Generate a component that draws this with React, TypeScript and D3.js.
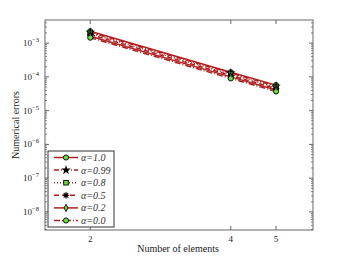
import React from "react";
import * as d3 from "d3";

const elements = [2, 4, 5];
const alphaLabels = ["α=1.0", "α=0.99", "α=0.8", "α=0.5", "α=0.2", "α=0.0"];
const err10 = [2.25e-3, 1.38e-4, 5.7e-5];
const err099 = [2.1e-3, 1.3e-4, 5.3e-5];
const err08 = [1.95e-3, 1.2e-4, 4.9e-5];
const err05 = [1.8e-3, 1.1e-4, 4.5e-5];
const err02 = [1.6e-3, 1.0e-4, 4.1e-5];
const err00 = [1.45e-3, 9.0e-5, 3.7e-5];
const yTickExps = [-3, -4, -5, -6, -7, -8];
const xTicks = [2, 4, 5];

const series = [
  { label: alphaLabels[0], values: err10, dash: "", marker: "circle", fill: "#66dd44" },
  { label: alphaLabels[1], values: err099, dash: "5,2,1,2", marker: "star", fill: "#000" },
  { label: alphaLabels[2], values: err08, dash: "1,2", marker: "square", fill: "#66dd44" },
  { label: alphaLabels[3], values: err05, dash: "5,3", marker: "star8", fill: "#000" },
  { label: alphaLabels[4], values: err02, dash: "", marker: "diamond", fill: "#66dd44" },
  { label: alphaLabels[5], values: err00, dash: "6,2,1,2", marker: "circle", fill: "#66dd44" },
];

const RED = "#b01f1f";

function Marker({ type, x, y, fill }: { type: string; x: number; y: number; fill: string }) {
  const s = 2.6;
  if (type === "circle") return <circle cx={x} cy={y} r={s} fill={fill} stroke="#000" strokeWidth={0.9} />;
  if (type === "square") return <rect x={x - s + 0.3} y={y - s + 0.3} width={2 * s - 0.6} height={2 * s - 0.6} fill={fill} stroke="#000" strokeWidth={0.9} />;
  if (type === "diamond") return <path d={`M${x},${y - s - 1}L${x + s - 0.6},${y}L${x},${y + s + 1}L${x - s + 0.6},${y}Z`} fill={fill} stroke="#000" strokeWidth={0.9} />;
  if (type === "star") {
    const p = d3.symbol(d3.symbolStar, 28)();
    return <path d={p || ""} transform={`translate(${x},${y})`} fill="#000" />;
  }
  const pts: string[] = [];
  for (let i = 0; i < 16; i++) {
    const r = i % 2 === 0 ? 3.3 : 1.7;
    const a = (Math.PI * 2 * i) / 16;
    pts.push(`${x + r * Math.sin(a)},${y - r * Math.cos(a)}`);
  }
  return <polygon points={pts.join(" ")} fill="#000" stroke="#000" strokeWidth={0.4} />;
}

export default function App() {
  const W = 346, H = 261;
  const L = 45, R = 313, T = 20, B = 230;
  const x = d3.scaleLog().domain([1.6, 6]).range([L, R]);
  const y = d3.scaleLog().domain([Math.pow(10, -2.315), Math.pow(10, -8.536)]).range([T, B]);
  const line = d3.line<number>().x((_, i) => x(elements[i])).y((d) => y(d));

  const minor: number[] = [];
  for (let e = -9; e <= -2; e++) for (let k = 2; k <= 9; k++) {
    const v = k * Math.pow(10, e);
    if (v <= y.domain()[0] && v >= y.domain()[1]) minor.push(v);
  }
  const frame = "#666";
  return (
    <svg width={W} height={H} style={{ position: "absolute", left: 0, top: 0 }} fontFamily="'Liberation Serif', 'DejaVu Serif', serif">
      <rect width={W} height={H} fill="#fff" />
      {series.map((s, i) => (
        <path key={i} d={line(s.values) || ""} fill="none" stroke={RED} strokeWidth={1.5} strokeDasharray={s.dash} />
      ))}
      {series.map((s, i) =>
        s.values.map((v, j) => <Marker key={i + "-" + j} type={s.marker} x={x(elements[j])} y={y(v)} fill={s.fill} />)
      )}
      <rect x={L} y={T} width={R - L} height={B - T} fill="none" stroke={frame} strokeWidth={1} />
      {yTickExps.map((e) => {
        const yy = y(Math.pow(10, e));
        return (
          <g key={e}>
            <line x1={L} x2={L + 4} y1={yy} y2={yy} stroke={frame} />
            <line x1={R} x2={R - 4} y1={yy} y2={yy} stroke={frame} />
            <text x={L - 6} y={yy + 3} textAnchor="end" fontSize={9} fill="#222">
              10<tspan dy={-4} fontSize={6.5}>−{-e}</tspan>
            </text>
          </g>
        );
      })}
      {minor.map((v, i) => (
        <g key={i}>
          <line x1={L} x2={L + 2} y1={y(v)} y2={y(v)} stroke={frame} strokeWidth={0.8} />
          <line x1={R} x2={R - 2} y1={y(v)} y2={y(v)} stroke={frame} strokeWidth={0.8} />
        </g>
      ))}
      {xTicks.map((t) => (
        <g key={t}>
          <line x1={x(t)} x2={x(t)} y1={B} y2={B - 4} stroke={frame} />
          <line x1={x(t)} x2={x(t)} y1={T} y2={T + 4} stroke={frame} />
          <text x={x(t)} y={B + 12} textAnchor="middle" fontSize={9} fill="#222">{t}</text>
        </g>
      ))}
      <text x={178} y={252} textAnchor="middle" fontSize={10} fill="#222">Number of elements</text>
      <text transform={`translate(19,125) rotate(-90)`} textAnchor="middle" fontSize={10} fill="#222">Numerical errors</text>
      <g>
        <rect x={48} y={151} width={66} height={76} fill="#fff" stroke="#333" strokeWidth={1} />
        {series.map((s, i) => {
          const yy = 157.5 + i * 12.6;
          return (
            <g key={i}>
              <line x1={54} x2={78} y1={yy} y2={yy} stroke={RED} strokeWidth={1.5} strokeDasharray={s.dash} />
              <Marker type={s.marker} x={66} y={yy} fill={s.fill} />
              <text x={81} y={yy + 3.5} fontSize={10} fontStyle="italic" fill="#333">{s.label}</text>
            </g>
          );
        })}
      </g>
    </svg>
  );
}
